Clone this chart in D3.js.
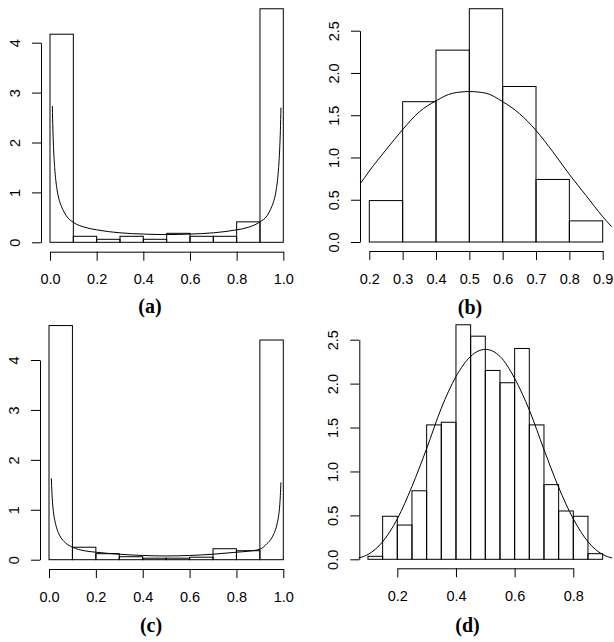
<!DOCTYPE html>
<html>
<head>
<meta charset="utf-8">
<script src="https://cdn.jsdelivr.net/npm/d3@7"></script>
<style>
  body { margin: 0; background: #fff; }
  .tick text { font-family: "Liberation Sans", Arial, sans-serif; font-size: 14.5px; fill: #000; }
  .caption { font-family: "Liberation Serif", "Times New Roman", serif; font-weight: bold; font-size: 20px; }
</style>
</head>
<body>
<div id="chart"></div>
<script>
// Panel (a)
var edgesA = [0, 0.1, 0.2, 0.3, 0.4, 0.5, 0.6, 0.7, 0.8, 0.9, 1.0];
var densA = [4.17, 0.12, 0.06, 0.12, 0.06, 0.18, 0.12, 0.12, 0.41, 4.68];
var curveAx = [0.01, 0.0125, 0.015, 0.02, 0.025, 0.03, 0.04, 0.05, 0.07, 0.1, 0.15, 0.2, 0.3, 0.4, 0.5, 0.6, 0.7, 0.8, 0.85, 0.9, 0.93, 0.95, 0.96, 0.97, 0.975, 0.98, 0.985, 0.9875, 0.99];
var curveAy = [2.73, 2.25, 1.92, 1.5, 1.24, 1.06, 0.84, 0.71, 0.53, 0.40, 0.30, 0.25, 0.19, 0.165, 0.155, 0.165, 0.19, 0.25, 0.30, 0.41, 0.53, 0.71, 0.84, 1.06, 1.24, 1.5, 1.92, 2.24, 2.70];
var xTicksA = [0, 0.2, 0.4, 0.6, 0.8, 1.0];
var yTicksA = [0, 1, 2, 3, 4];

// Panel (b)
var edgesB = [0.2, 0.3, 0.4, 0.5, 0.6, 0.7, 0.8, 0.9];
var densB = [0.49, 1.66, 2.27, 2.76, 1.84, 0.74, 0.25];
var curveBx = [0.173, 0.2, 0.25, 0.3, 0.35, 0.4, 0.45, 0.5, 0.55, 0.6, 0.65, 0.7, 0.75, 0.8, 0.85, 0.9, 0.927];
var curveBy = [0.69, 0.84, 1.09, 1.33, 1.54, 1.67, 1.76, 1.78, 1.76, 1.66, 1.52, 1.32, 1.07, 0.80, 0.55, 0.30, 0.18];
var xTicksB = [0.2, 0.3, 0.4, 0.5, 0.6, 0.7, 0.8, 0.9];
var yTicksB = [0, 0.5, 1.0, 1.5, 2.0, 2.5];

// Panel (c)
var edgesC = [0, 0.1, 0.2, 0.3, 0.4, 0.5, 0.6, 0.7, 0.8, 0.9, 1.0];
var densC = [4.69, 0.25, 0.12, 0.06, 0.03, 0.03, 0.05, 0.22, 0.18, 4.40];
var curveCx = [0.01, 0.0125, 0.015, 0.02, 0.025, 0.03, 0.04, 0.05, 0.07, 0.1, 0.15, 0.2, 0.3, 0.4, 0.5, 0.6, 0.7, 0.8, 0.85, 0.9, 0.93, 0.95, 0.96, 0.97, 0.975, 0.98, 0.985, 0.9875, 0.99];
var curveCy = [1.63, 1.35, 1.15, 0.92, 0.78, 0.68, 0.54, 0.45, 0.34, 0.25, 0.18, 0.15, 0.11, 0.085, 0.075, 0.085, 0.11, 0.15, 0.17, 0.21, 0.32, 0.43, 0.52, 0.65, 0.75, 0.88, 1.10, 1.29, 1.55];
var xTicksC = [0, 0.2, 0.4, 0.6, 0.8, 1.0];
var yTicksC = [0, 1, 2, 3, 4];

// Panel (d)
var edgesD = [0.10, 0.15, 0.20, 0.25, 0.30, 0.35, 0.40, 0.45, 0.50, 0.55, 0.60, 0.65, 0.70, 0.75, 0.80, 0.85, 0.90];
var densD = [0.034, 0.49, 0.39, 0.78, 1.53, 1.56, 2.67, 2.54, 2.15, 2.01, 2.40, 1.53, 0.85, 0.55, 0.49, 0.064];
var curveDx = [0.068, 0.1, 0.15, 0.2, 0.25, 0.3, 0.35, 0.4, 0.45, 0.5, 0.55, 0.6, 0.65, 0.7, 0.75, 0.8, 0.85, 0.9, 0.932];
var curveDy = [0.015, 0.055, 0.20, 0.46, 0.83, 1.26, 1.72, 2.08, 2.31, 2.39, 2.31, 2.06, 1.70, 1.25, 0.82, 0.46, 0.20, 0.055, 0.015];
var xTicksD = [0.2, 0.4, 0.6, 0.8];
var yTicksD = [0, 0.5, 1.0, 1.5, 2.0, 2.5];

var svgWidth = 614;
var svgHeight = 642;

var svg = d3.select("#chart")
  .append("svg")
  .attr("width", svgWidth)
  .attr("height", svgHeight);

// draw one histogram panel; layout is in pixels, data comes from the arrays above
function drawPanel(p) {
  var xScale = d3.scaleLinear().domain(p.xDomain).range(p.xRange);
  var yScale = d3.scaleLinear().domain(p.yDomain).range(p.yRange);

  var g = svg.append("g");

  // bars
  g.selectAll("rect")
    .data(p.dens)
    .enter()
    .append("rect")
    .attr("x", (d, i) => xScale(p.edges[i]))
    .attr("width", (d, i) => xScale(p.edges[i + 1]) - xScale(p.edges[i]))
    .attr("y", d => yScale(d))
    .attr("height", d => yScale(0) - yScale(d))
    .attr("fill", "none")
    .attr("stroke", "#000")
    .attr("stroke-width", 1);

  // density curve
  var line = d3.line()
    .x(d => xScale(d[0]))
    .y(d => yScale(d[1]))
    .curve(d3.curveMonotoneX);

  g.append("path")
    .datum(p.cx.map((x, i) => [x, p.cy[i]]))
    .attr("d", line)
    .attr("fill", "none")
    .attr("stroke", "#000")
    .attr("stroke-width", 1);

  // x axis
  var bottomAxis = d3.axisBottom(xScale)
    .tickValues(p.xTicks)
    .tickFormat(d3.format(".1f"))
    .tickSize(9)
    .tickSizeOuter(0);

  var xg = g.append("g")
    .attr("transform", `translate(0, ${p.xAxisY})`)
    .call(bottomAxis);
  xg.selectAll("text").attr("y", 32.5).attr("dy", 0);

  // y axis with rotated labels
  var leftAxis = d3.axisLeft(yScale)
    .tickValues(p.yTicks)
    .tickFormat(d3.format(p.yFormat))
    .tickSize(9)
    .tickSizeOuter(0);

  var yg = g.append("g")
    .attr("transform", `translate(${p.yAxisX}, 0)`)
    .call(leftAxis);
  yg.selectAll("text")
    .attr("x", 0)
    .attr("dy", 0)
    .attr("text-anchor", "middle")
    .attr("transform", "translate(-21.5, 0) rotate(-90)");

  g.selectAll(".domain, .tick line").attr("stroke", "#000");
  g.selectAll(".tick text").attr("font-family", null).attr("font-size", null);

  // caption
  g.append("text")
    .attr("class", "caption")
    .attr("x", p.capX)
    .attr("y", p.capY)
    .attr("text-anchor", "middle")
    .text(p.caption);
}

drawPanel({
  edges: edgesA, dens: densA, cx: curveAx, cy: curveAy,
  xTicks: xTicksA, yTicks: yTicksA, yFormat: "d",
  xDomain: [0, 1], xRange: [50, 283.3],
  yDomain: [0, 4], yRange: [242.3, 42.7],
  yAxisX: 41, xAxisY: 251.7,
  capX: 150, capY: 313, caption: "(a)"
});

drawPanel({
  edges: edgesB, dens: densB, cx: curveBx, cy: curveBy,
  xTicks: xTicksB, yTicks: yTicksB, yFormat: ".1f",
  xDomain: [0.2, 0.9], xRange: [369.3, 602.7],
  yDomain: [0, 2.5], yRange: [242, 30.7],
  yAxisX: 360, xAxisY: 251,
  capX: 470, capY: 314, caption: "(b)"
});

drawPanel({
  edges: edgesC, dens: densC, cx: curveCx, cy: curveCy,
  xTicks: xTicksC, yTicks: yTicksC, yFormat: "d",
  xDomain: [0, 1], xRange: [49, 283.3],
  yDomain: [0, 4], yRange: [559.7, 360],
  yAxisX: 40, xAxisY: 569,
  capX: 151, capY: 632, caption: "(c)"
});

drawPanel({
  edges: edgesD, dens: densD, cx: curveDx, cy: curveDy,
  xTicks: xTicksD, yTicks: yTicksD, yFormat: ".1f",
  xDomain: [0.2, 0.8], xRange: [397.3, 573.3],
  yDomain: [0, 2.5], yRange: [559.3, 339.7],
  yAxisX: 359.3, xAxisY: 568.3,
  capX: 467.5, capY: 632, caption: "(d)"
});
</script>
</body>
</html>
